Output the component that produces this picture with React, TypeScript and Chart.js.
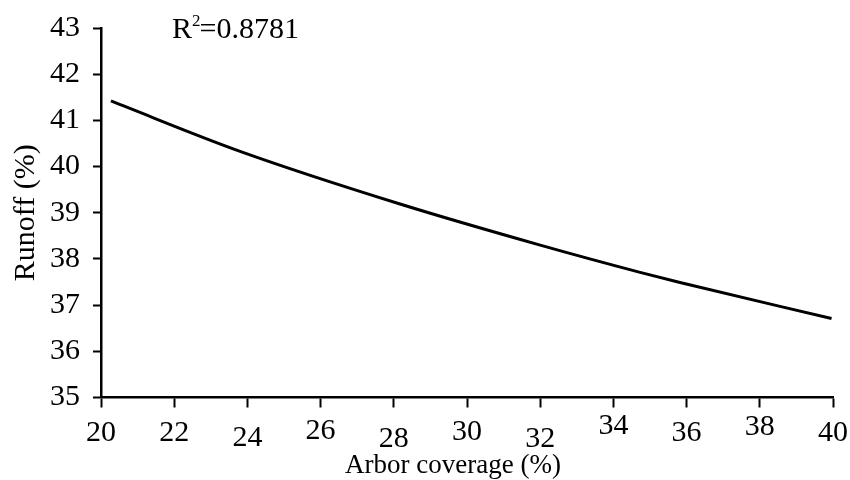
import { useEffect, useRef } from "react";
import { Chart, registerables } from "chart.js";

Chart.register(...registerables);

// Data
const coverage = [20.27, 23.8, 28.17, 32.0, 34.73, 35.82, 39.96];
const runoff = [41.42, 40.33, 39.19, 38.3, 37.71, 37.49, 36.71];
const xTicks = [20, 22, 24, 26, 28, 30, 32, 34, 36, 38, 40];
const yTicks = [35, 36, 37, 38, 39, 40, 41, 42, 43];
const xTitle = "Arbor coverage (%)";
const yTitle = "Runoff (%)";
const rSquared = "0.8781";

// vertical jitter of the x tick labels as seen in the reference (px)
const xLabelShift = [0, 0, 5, -1.5, 6, -1, 6, -6.5, 0, -5.5, 0];

const FONT = "'Liberation Serif', 'Times New Roman', serif";

export default function App() {
  const ref = useRef<HTMLCanvasElement>(null);

  useEffect(() => {
    if (!ref.current) return;

    const textPlugin = {
      id: "texts",
      afterDraw(chart: any) {
        const ctx = chart.ctx as CanvasRenderingContext2D;
        const xs = chart.scales.x;
        ctx.save();
        ctx.fillStyle = "#000";
        ctx.textBaseline = "alphabetic";

        // x tick labels
        ctx.font = `30px ${FONT}`;
        ctx.textAlign = "center";
        xTicks.forEach((v, i) => {
          const px = xs.getPixelForValue(v);
          ctx.fillText(String(v), px, xs.top + 43 + (xLabelShift[i] || 0));
        });

        // R² annotation
        ctx.textAlign = "left";
        let x = 172;
        const base = 38;
        ctx.font = `30px ${FONT}`;
        ctx.fillText("R", x, base);
        x += ctx.measureText("R").width;
        ctx.font = `17px ${FONT}`;
        ctx.fillText("2", x, base - 12);
        x += ctx.measureText("2").width;
        ctx.font = `30px ${FONT}`;
        ctx.fillText("=" + rSquared, x - 1, base);

        // x axis title
        ctx.font = `27px ${FONT}`;
        ctx.textAlign = "center";
        ctx.fillText(xTitle, 453, 473);
        ctx.restore();
      },
    };

    const chart = new Chart(ref.current, {
      type: "scatter",
      data: {
        datasets: [
          {
            data: coverage.map((x, i) => ({ x, y: runoff[i] })),
            showLine: true,
            borderColor: "#000",
            backgroundColor: "#000",
            borderWidth: 3,
            pointRadius: 0,
            cubicInterpolationMode: "monotone",
            fill: false,
          },
        ],
      },
      options: {
        animation: false,
        responsive: false,
        layout: { padding: { top: 28, right: 17, left: 0, bottom: 0 } },
        plugins: {
          legend: { display: false },
          tooltip: { enabled: false },
        },
        scales: {
          x: {
            type: "linear",
            min: 20,
            max: 40,
            afterBuildTicks: (s: any) => {
              s.ticks = xTicks.map((v) => ({ value: v }));
            },
            grid: {
              drawOnChartArea: false,
              drawTicks: true,
              tickLength: 10,
              tickWidth: 2,
              tickColor: "#000",
            },
            border: { color: "#000", width: 2.5 },
            ticks: {
              display: false,
            },
            afterFit: (s: any) => {
              s.height = 82.5;
              s.paddingLeft = 0;
              s.paddingRight = 0;
            },
          },
          y: {
            type: "linear",
            min: 35,
            max: 43,
            afterBuildTicks: (s: any) => {
              s.ticks = yTicks.map((v) => ({ value: v }));
            },
            grid: {
              drawOnChartArea: false,
              drawTicks: true,
              tickLength: 8,
              tickWidth: 2,
              tickColor: "#000",
            },
            border: { color: "#000", width: 2.5 },
            ticks: {
              color: "#000",
              font: { family: FONT, size: 30 },
              padding: 13,
              autoSkip: false,
            },
            title: {
              display: true,
              text: yTitle,
              color: "#000",
              font: { family: FONT, size: 30 },
              padding: { top: 8, bottom: 0 },
            },
            afterFit: (s: any) => {
              s.width = 101;
              s.paddingTop = 0;
              s.paddingBottom = 0;
            },
          },
        },
      },
      plugins: [textPlugin],
    });

    return () => chart.destroy();
  }, []);

  return (
    <div
      style={{
        position: "fixed",
        left: 0,
        top: 0,
        width: 850,
        height: 480,
        background: "#fff",
      }}
    >
      <canvas ref={ref} width={850} height={480} style={{ display: "block" }} />
    </div>
  );
}
